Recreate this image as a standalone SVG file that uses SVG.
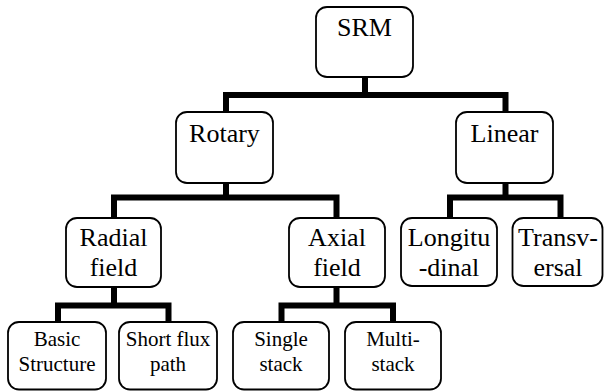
<svg xmlns="http://www.w3.org/2000/svg" width="604" height="391" viewBox="0 0 604 391">
<style>
.box{fill:#fff;stroke:#000;stroke-width:1.8}
.c{fill:none;stroke:#000;stroke-width:6;stroke-linejoin:miter;stroke-linecap:butt}
.t{font-family:'Liberation Serif','Times New Roman',serif;font-size:26px;fill:#000;text-anchor:middle}
.s{font-family:'Liberation Serif','Times New Roman',serif;font-size:21px;fill:#000;text-anchor:middle}
</style>
<rect width="604" height="391" fill="#fff"/>
<g id="connectors">
<path class="c" d="M365,77V95M226,112V95H505.5V112"/>
<path class="c" d="M226,183V197.5M114,218V197.5H336.5V218"/>
<path class="c" d="M505.5,183V197.5M450,218V197.5H560.5V218"/>
<path class="c" d="M114,287V305.5M58,322V305.5H168.5V322"/>
<path class="c" d="M336.5,287V305.5M281.5,322V305.5H393V322"/>
</g>
<g id="srm"><rect class="box" x="316" y="7" width="97" height="70" rx="11"/><text class="t" x="364.5" y="36">SRM</text></g>
<g id="rotary"><rect class="box" x="176" y="112" width="97" height="71" rx="11"/><text class="t" x="224.5" y="142">Rotary</text></g>
<g id="linear"><rect class="box" x="456" y="112" width="97" height="71" rx="11"/><text class="t" x="504.5" y="142">Linear</text></g>
<g id="radial"><rect class="box" x="66" y="218" width="95" height="69" rx="11"/><text class="t" x="113.5" y="246">Radial</text><text class="t" x="113.5" y="276">field</text></g>
<g id="axial"><rect class="box" x="289" y="218" width="96" height="69" rx="11"/><text class="t" x="337" y="246">Axial</text><text class="t" x="337" y="276">field</text></g>
<g id="longitudinal"><rect class="box" x="401" y="218" width="96" height="68" rx="11"/><text class="t" x="449" y="246">Longitu</text><text class="t" x="449" y="276">-dinal</text></g>
<g id="transversal"><rect class="box" x="512.5" y="218" width="90" height="68" rx="11"/><text class="t" x="558" y="246">Transv-</text><text class="t" x="558" y="276">ersal</text></g>
<g id="basic"><rect class="box" x="8" y="322" width="98" height="67.5" rx="11"/><text class="s" x="57" y="346">Basic</text><text class="s" x="57" y="371">Structure</text></g>
<g id="shortflux"><rect class="box" x="119" y="322" width="98" height="67.5" rx="11"/><text class="s" x="168" y="346">Short flux</text><text class="s" x="168" y="371">path</text></g>
<g id="single"><rect class="box" x="233" y="322" width="96" height="67.5" rx="11"/><text class="s" x="281" y="346">Single</text><text class="s" x="281" y="371">stack</text></g>
<g id="multi"><rect class="box" x="345" y="322" width="96" height="67.5" rx="11"/><text class="s" x="393" y="346">Multi-</text><text class="s" x="393" y="371">stack</text></g>
</svg>
